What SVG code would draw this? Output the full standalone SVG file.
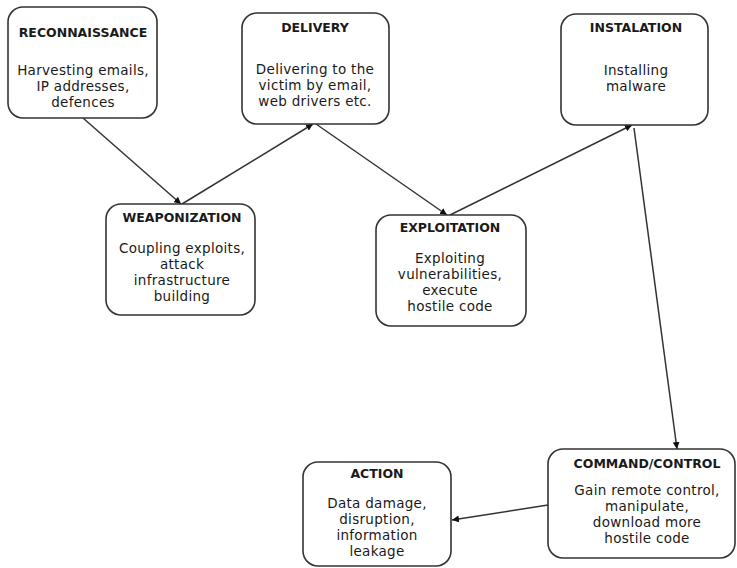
<svg xmlns="http://www.w3.org/2000/svg" width="737" height="568" viewBox="0 0 737 568">
<defs>
<marker id="ah" viewBox="0 0 10 10" refX="10" refY="5" markerWidth="7" markerHeight="7" markerUnits="userSpaceOnUse" orient="auto">
<path d="M0,0 L10,5 L0,10 z" fill="#111"/>
</marker>
<style>
.box{fill:#fff;stroke:#333;stroke-width:1.6}
.t{font-family:"DejaVu Sans",sans-serif;font-size:12.5px;font-weight:bold;fill:#1a1a1a;text-anchor:middle}
.b{font-family:"DejaVu Sans",sans-serif;font-size:13.5px;fill:#1a1a1a;text-anchor:middle;letter-spacing:0.3px}
.c{fill:none;stroke:#333;stroke-width:1.5;marker-end:url(#ah)}
</style>
</defs>
<rect width="737" height="568" fill="#fff"/>
<g id="connectors">
<line class="c" x1="83" y1="118" x2="181" y2="204"/>
<line class="c" x1="182" y1="204" x2="313" y2="124"/>
<line class="c" x1="316" y1="124" x2="447" y2="215"/>
<line class="c" x1="450" y1="215" x2="632" y2="125"/>
<line class="c" x1="634" y1="128" x2="677" y2="449"/>
<line class="c" x1="548" y1="505" x2="452" y2="520"/>
</g>
<g id="reconnaissance">
<rect class="box" x="8" y="7" width="149" height="111" rx="15"/>
<text class="t" x="83" y="37">RECONNAISSANCE</text>
<text class="b" x="83" y="75">Harvesting emails,</text>
<text class="b" x="83" y="91">IP addresses,</text>
<text class="b" x="83" y="107">defences</text>
</g>
<g id="delivery">
<rect class="box" x="242" y="13" width="147" height="111" rx="15"/>
<text class="t" x="315" y="32">DELIVERY</text>
<text class="b" x="315" y="74">Delivering to the</text>
<text class="b" x="315" y="90">victim by email,</text>
<text class="b" x="315" y="106">web drivers etc.</text>
</g>
<g id="instalation">
<rect class="box" x="561" y="14" width="147" height="111" rx="15"/>
<text class="t" x="636" y="32">INSTALATION</text>
<text class="b" x="636" y="75">Installing</text>
<text class="b" x="636" y="91">malware</text>
</g>
<g id="weaponization">
<rect class="box" x="106" y="204" width="149" height="111" rx="15"/>
<text class="t" x="182" y="222">WEAPONIZATION</text>
<text class="b" x="182" y="253">Coupling exploits,</text>
<text class="b" x="182" y="269">attack</text>
<text class="b" x="182" y="285">infrastructure</text>
<text class="b" x="182" y="301">building</text>
</g>
<g id="exploitation">
<rect class="box" x="376" y="215" width="150" height="111" rx="15"/>
<text class="t" x="450" y="232">EXPLOITATION</text>
<text class="b" x="450" y="263">Exploiting</text>
<text class="b" x="450" y="279">vulnerabilities,</text>
<text class="b" x="450" y="295">execute</text>
<text class="b" x="450" y="311">hostile code</text>
</g>
<g id="action">
<rect class="box" x="303" y="462" width="148" height="104" rx="15"/>
<text class="t" x="377" y="478">ACTION</text>
<text class="b" x="377" y="508">Data damage,</text>
<text class="b" x="377" y="524">disruption,</text>
<text class="b" x="377" y="540">information</text>
<text class="b" x="377" y="556">leakage</text>
</g>
<g id="command-control">
<rect class="box" x="548" y="449" width="187" height="109" rx="15"/>
<text class="t" x="647" y="468">COMMAND/CONTROL</text>
<text class="b" x="647" y="495">Gain remote control,</text>
<text class="b" x="647" y="511">manipulate,</text>
<text class="b" x="647" y="527">download more</text>
<text class="b" x="647" y="543">hostile code</text>
</g>
</svg>
